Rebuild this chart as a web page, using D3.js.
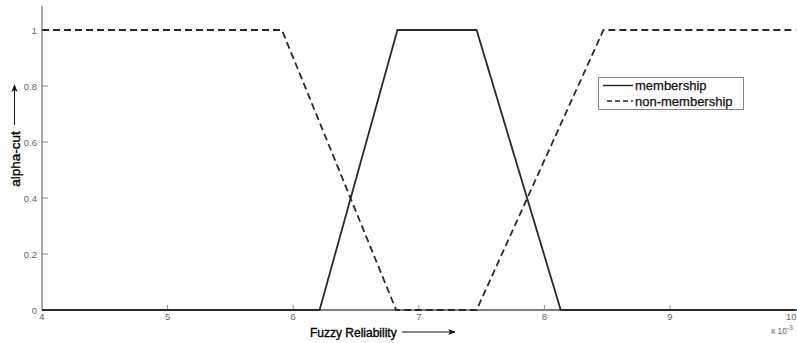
<!DOCTYPE html>
<html><head><meta charset="utf-8">
<script src="https://cdn.jsdelivr.net/npm/d3@7"></script>
<style>body{margin:0;background:#fff;}svg{display:block;font-family:"Liberation Sans",Arial,sans-serif;}</style>
</head><body>
<svg id="c" width="797" height="343"></svg>
<script>
const xTicks = [4,5,6,7,8,9,10];
const yTicks = [0,0.2,0.4,0.6,0.8,1];
const membershipX = [4, 6.21, 6.83, 7.46, 8.13, 10];
const membershipY = [0, 0, 1, 1, 0, 0];
const nonMembershipX = [4, 5.91, 6.82, 7.46, 8.47, 10];
const nonMembershipY = [1, 1, 0, 0, 1, 1];
const seriesNames = ["membership", "non-membership"];

const svg = d3.select("#c");
const x = d3.scaleLinear().domain([4,10]).range([42, 795.6]);
const y = d3.scaleLinear().domain([0,1]).range([310, 30]);
const axisColor = "#8a8a8a";
const lineColor = "#2a2a2a";
const tickText = "#666";

// axis lines
svg.append("line").attr("x1", x(4)).attr("x2", 797).attr("y1", y(0)).attr("y2", y(0))
  .attr("stroke", "#555").attr("stroke-width", 1.5);
svg.append("line").attr("x1", x(4)).attr("x2", x(4)).attr("y1", y(0)).attr("y2", 6)
  .attr("stroke", axisColor).attr("stroke-width", 1.5);

// x ticks (inward)
const xg = svg.append("g");
xTicks.forEach((t, i) => {
  if (t > 4 && t < 10) xg.append("line").attr("x1", x(t)).attr("x2", x(t)).attr("y1", y(0)).attr("y2", y(0)-5)
    .attr("stroke", axisColor).attr("stroke-width", 1);
  const last = i === xTicks.length - 1;
  xg.append("text").attr("x", last ? 796.5 : x(t)).attr("y", y(0)+10)
    .attr("text-anchor", last ? "end" : "middle")
    .attr("font-size", 9.5).attr("fill", tickText).text(t);
});
// y ticks
yTicks.forEach(t => {
  if (t > 0) svg.append("line").attr("x1", x(4)).attr("x2", x(4)+6).attr("y1", y(t)).attr("y2", y(t))
    .attr("stroke", axisColor).attr("stroke-width", 1);
  svg.append("text").attr("x", 37).attr("y", y(t)+3.5).attr("text-anchor","end")
    .attr("font-size", 9.5).attr("fill", tickText).text(t);
});
svg.append("text").attr("x", 771).attr("y", 334).attr("font-size", 8.5).attr("fill", tickText)
  .text("x 10").append("tspan").attr("dy", -4).attr("font-size", 6.5).text("-3");

const line = d3.line().x(d => x(d[0])).y(d => y(d[1]));
const mData = membershipX.map((v,i) => [v, membershipY[i]]);
const nData = nonMembershipX.map((v,i) => [v, nonMembershipY[i]]);
svg.append("path").attr("d", line(nData)).attr("fill","none").attr("stroke", lineColor)
  .attr("stroke-width", 1.8).attr("stroke-dasharray", "7,4");
svg.append("path").attr("d", line(mData)).attr("fill","none").attr("stroke", lineColor)
  .attr("stroke-width", 1.8);

// axis labels
svg.append("text").attr("x", 310).attr("y", 337).attr("font-size", 12).attr("fill", "#000")
  .attr("stroke", "#000").attr("stroke-width", 0.35).text("Fuzzy Reliability");
svg.append("defs").append("marker").attr("id","ah").attr("viewBox","0 0 10 10").attr("refX",9).attr("refY",5)
  .attr("markerWidth",8).attr("markerHeight",8).attr("orient","auto-start-reverse")
  .append("path").attr("d","M0,1 L10,5 L0,9 L3,5 Z").attr("fill","#111");
svg.append("line").attr("x1", 402).attr("x2", 455).attr("y1", 332).attr("y2", 332)
  .attr("stroke","#111").attr("stroke-width",1).attr("marker-end","url(#ah)");
svg.append("text").attr("transform","translate(19.5,159) rotate(-90)").attr("text-anchor","middle")
  .attr("font-size", 13.5).attr("fill","#000").attr("stroke", "#000").attr("stroke-width", 0.35).text("alpha-cut");
svg.append("line").attr("x1", 14.5).attr("x2", 14.5).attr("y1", 125).attr("y2", 85)
  .attr("stroke","#111").attr("stroke-width",1).attr("marker-end","url(#ah)");

// legend
const lg = svg.append("g");
lg.append("rect").attr("x", 598.5).attr("y", 77.5).attr("width", 145).attr("height", 32)
  .attr("fill","#fff").attr("stroke","#888").attr("stroke-width",1);
seriesNames.forEach((name, i) => {
  const yy = 85.5 + i*15.5;
  lg.append("line").attr("x1", i ? 607 : 603).attr("x2", 633).attr("y1", yy).attr("y2", yy)
    .attr("stroke", lineColor).attr("stroke-width", 1.5).attr("stroke-dasharray", i ? "5,3" : null);
  lg.append("text").attr("x", 635).attr("y", yy+4.5).attr("font-size", 13).attr("fill","#111")
    .attr("stroke","#111").attr("stroke-width",0.25).text(name);
});
</script>
</body></html>
